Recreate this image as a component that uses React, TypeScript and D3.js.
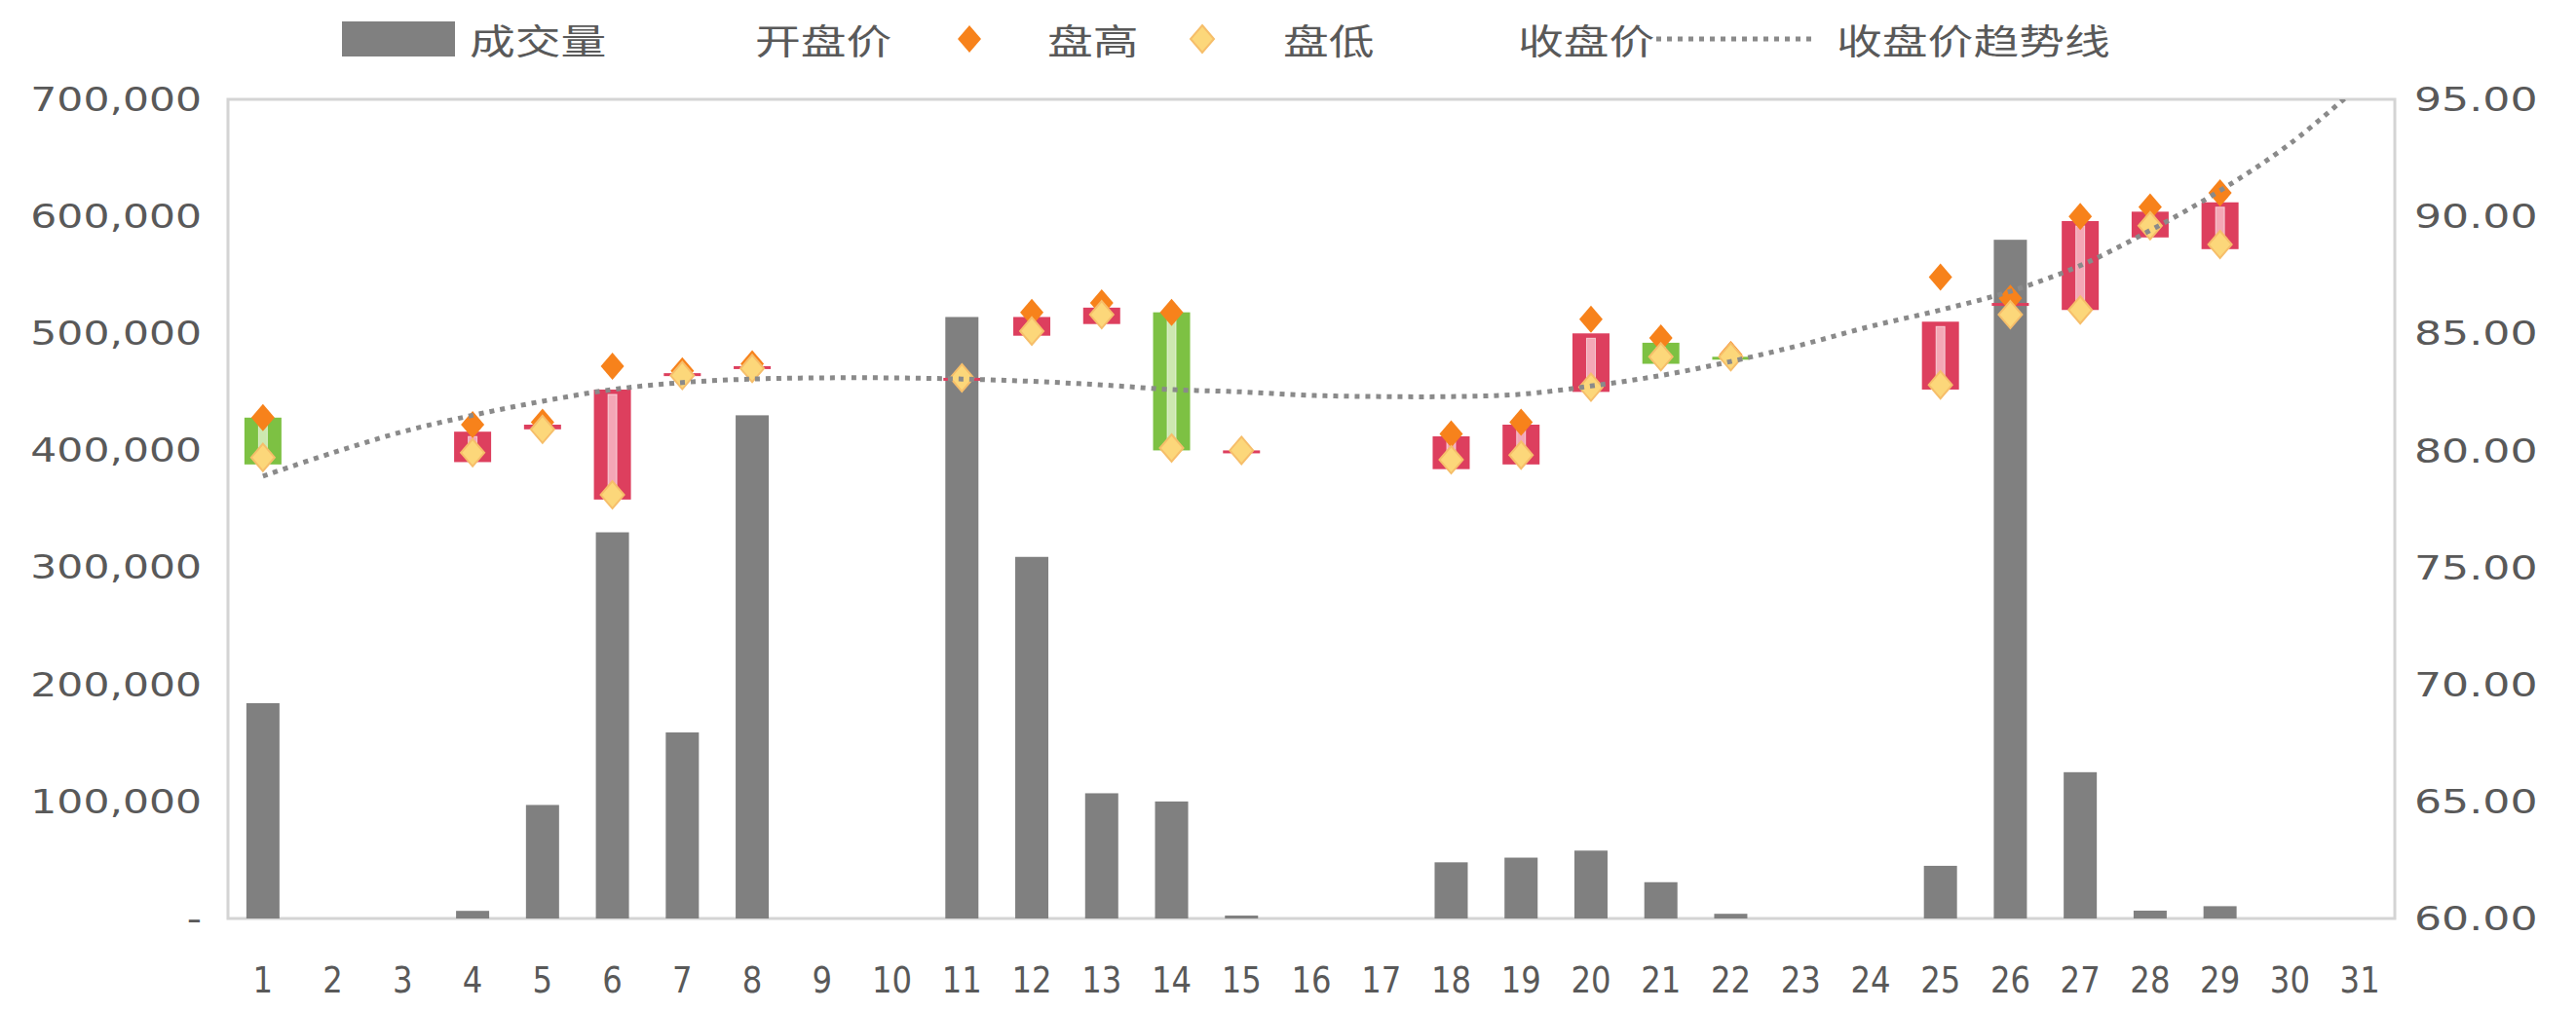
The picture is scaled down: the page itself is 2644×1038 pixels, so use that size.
import React from "react";
import * as d3 from "d3";

// ---------- data ----------
const days: string[] = Array.from({ length: 31 }, (_, i) => String(i + 1));

const volume: number[] = [
  184000, 0, 0, 6500, 97000, 330000, 159000, 430000, 0, 0,
  514000, 309000, 107000, 100000, 2500, 0, 0, 48000, 52000, 58000,
  31000, 4000, 0, 0, 45000, 580000, 125000, 6700, 10500, 0, 0,
];

const openPrice: (number | null)[] = [
  81.4, null, null, 79.5, 80.9, 77.9, 83.2, 83.5, null, null,
  83.1, 84.9, 85.4, 85.9, 80.0, null, null, 79.2, 79.4, 82.5,
  84.6, 84.0, null, null, 82.6, 86.2, 86.0, 89.1, 88.6, null, null,
];
const highPrice: (number | null)[] = [
  81.4, null, null, 81.1, 81.2, 83.6, 83.4, 83.7, null, null,
  83.1, 85.9, 86.3, 85.9, 80.0, null, null, 80.7, 81.2, 85.6,
  84.8, 84.1, null, null, 87.4, 86.5, 90.0, 90.4, 91.0, null, null,
];
const lowPrice: (number | null)[] = [
  79.7, null, null, 79.9, 80.9, 78.1, 83.2, 83.5, null, null,
  83.1, 85.1, 85.8, 80.1, 80.0, null, null, 79.6, 79.8, 82.7,
  84.0, 84.0, null, null, 82.8, 85.8, 86.0, 89.6, 88.8, null, null,
];
const closePrice: (number | null)[] = [
  79.4, null, null, 80.8, 81.1, 82.6, 83.3, 83.6, null, null,
  83.1, 85.7, 86.1, 80.0, 80.0, null, null, 80.6, 81.1, 85.0,
  83.7, 83.9, null, null, 85.5, 86.3, 89.8, 90.2, 90.6, null, null,
];
// close-price trend line
const closeTrend: number[] = [
  78.9, 79.9, 80.8, 81.5, 82.1, 82.6, 82.9, 83.05, 83.1, 83.1,
  83.05, 82.95, 82.8, 82.6, 82.5, 82.35, 82.3, 82.3, 82.4, 82.75,
  83.2, 83.8, 84.5, 85.3, 86.0, 86.8, 87.9, 89.4, 91.1, 93.1, 95.6,
];

const volTicks: number[] = [0, 100000, 200000, 300000, 400000, 500000, 600000, 700000];
const priceTicks: number[] = [60, 65, 70, 75, 80, 85, 90, 95];

const legendLabels = {
  volume: "成交量",
  open: "开盘价",
  high: "盘高",
  low: "盘低",
  close: "收盘价",
  trend: "收盘价趋势线",
};

// ---------- styles ----------
const W = 2644;
const H = 1038;
const PL = 234, PR = 2458, PT = 102, PB = 943;
const TEXT = "#595959";
const BAR = "#808080";
const UP = "#DD3F5E";
const UP_IN = "#F4A7B6";
const DOWN = "#7DC143";
const DOWN_IN = "#CDE8B0";
const HIGHC = "#F7821B";
const LOWC = "#FCD77A";
const LOW_STROKE = "#F6BE6A";
const TRENDC = "#8A8A8A";
const SX = 1.3;
const NUMFONT = "'DejaVu Sans', sans-serif";
const CJKFONT = "'Noto Sans CJK SC', sans-serif";

function SText(props: {
  x: number; y: number; anchor?: string; size: number; sx?: number;
  font: string; children: React.ReactNode; fill?: string;
}) {
  const { x, y, anchor = "start", size, sx = SX, font, children, fill = TEXT } = props;
  return (
    <text
      transform={`translate(${x},${y}) scale(${sx},1)`}
      textAnchor={anchor as any}
      dominantBaseline="central"
      fontSize={size}
      fontFamily={font}
      fill={fill}
    >
      {children}
    </text>
  );
}

function Diamond({ cx, cy, fill, stroke }: { cx: number; cy: number; fill: string; stroke?: string }) {
  const w = 12, h = 14;
  return (
    <path
      d={`M${cx},${cy - h}L${cx + w},${cy}L${cx},${cy + h}L${cx - w},${cy}Z`}
      fill={fill}
      stroke={stroke || "none"}
      strokeWidth={stroke ? 2 : 0}
    />
  );
}

export default function App() {
  const x = d3.scaleBand<string>().domain(days).range([PL, PR]).paddingInner(0).paddingOuter(0);
  const yVol = d3.scaleLinear().domain([0, 700000]).range([PB, PT]);
  const yP = d3.scaleLinear().domain([60, 95]).range([PB, PT]);
  const cx = (i: number) => (x(days[i]) as number) + x.bandwidth() / 2;

  const barW = 34;
  const bodyW = 38;
  const innerW = 9;

  const fmtVol = (v: number) => (v === 0 ? "-" : d3.format(",")(v));
  const fmtP = d3.format(".2f");

  const trendLine = d3
    .line<number>()
    .x((_, i) => cx(i))
    .y((d) => yP(d))
    .curve(d3.curveCatmullRom.alpha(0.5));

  const legendY = 40;

  return (
    <svg
      width={W}
      height={H}
      viewBox={`0 0 ${W} ${H}`}
      style={{ position: "absolute", left: 0, top: 0, background: "#fff" }}
    >
      <defs>
        <clipPath id="plotClip">
          <rect x={PL} y={PT} width={PR - PL} height={PB - PT} />
        </clipPath>
      </defs>
      <rect x={0} y={0} width={W} height={H} fill="#fff" />

      {/* plot frame */}
      <rect x={PL} y={PT} width={PR - PL} height={PB - PT} fill="none" stroke="#D4D4D4" strokeWidth={3} />

      {/* volume bars */}
      {volume.map((v, i) =>
        v > 0 ? (
          <rect
            key={"v" + i}
            x={cx(i) - barW / 2}
            y={yVol(v)}
            width={barW}
            height={PB - yVol(v)}
            fill={BAR}
          />
        ) : null
      )}

      {/* candle bodies */}
      {openPrice.map((o, i) => {
        const c = closePrice[i];
        if (o == null || c == null) return null;
        const up = c >= o;
        const top = yP(Math.max(o, c));
        const bot = yP(Math.min(o, c));
        const h = Math.max(bot - top, 3);
        return (
          <g key={"c" + i}>
            <rect x={cx(i) - bodyW / 2} y={top} width={bodyW} height={h} fill={up ? UP : DOWN} />
            {h > 14 ? (
              <rect
                x={cx(i) - innerW / 2}
                y={top + 5}
                width={innerW}
                height={h - 10}
                fill={up ? UP_IN : DOWN_IN}
                stroke="#ffffff"
                strokeOpacity={0.6}
                strokeWidth={1}
              />
            ) : null}
          </g>
        );
      })}

      {/* high markers */}
      {highPrice.map((v, i) => (v == null ? null : <Diamond key={"h" + i} cx={cx(i)} cy={yP(v)} fill={HIGHC} />))}
      {/* low markers */}
      {lowPrice.map((v, i) =>
        v == null ? null : <Diamond key={"l" + i} cx={cx(i)} cy={yP(v)} fill={LOWC} stroke={LOW_STROKE} />
      )}

      {/* trend line */}
      <path
        d={trendLine(closeTrend) || ""}
        fill="none"
        stroke={TRENDC}
        strokeWidth={5}
        strokeDasharray="5 6"
        clipPath="url(#plotClip)"
      />

      {/* left axis labels */}
      {volTicks.map((t) => (
        <SText key={"lv" + t} x={207} y={yVol(t)} anchor="end" size={34} sx={1.25} font={NUMFONT}>
          {fmtVol(t)}
        </SText>
      ))}
      {/* right axis labels */}
      {priceTicks.map((t) => (
        <SText key={"rp" + t} x={2478} y={yP(t)} anchor="start" size={34} font={NUMFONT}>
          {fmtP(t)}
        </SText>
      ))}
      {/* x labels */}
      {days.map((d, i) => (
        <SText key={"x" + d} x={cx(i)} y={1006} anchor="middle" size={38} sx={0.85} font={NUMFONT}>
          {d}
        </SText>
      ))}

      {/* legend */}
      <rect x={351} y={22} width={116} height={36} fill={BAR} />
      <SText x={482} y={legendY} size={36} font={CJKFONT}>{legendLabels.volume}</SText>
      <SText x={775} y={legendY} size={36} font={CJKFONT}>{legendLabels.open}</SText>
      <Diamond cx={995} cy={legendY} fill={HIGHC} />
      <SText x={1075} y={legendY} size={36} font={CJKFONT}>{legendLabels.high}</SText>
      <Diamond cx={1234} cy={legendY} fill={LOWC} stroke={LOW_STROKE} />
      <SText x={1317} y={legendY} size={36} font={CJKFONT}>{legendLabels.low}</SText>
      <SText x={1558} y={legendY} size={36} font={CJKFONT}>{legendLabels.close}</SText>
      <line x1={1700} x2={1862} y1={legendY} y2={legendY} stroke={TRENDC} strokeWidth={5} strokeDasharray="5 6" />
      <SText x={1885} y={legendY} size={36} font={CJKFONT}>{legendLabels.trend}</SText>
    </svg>
  );
}
